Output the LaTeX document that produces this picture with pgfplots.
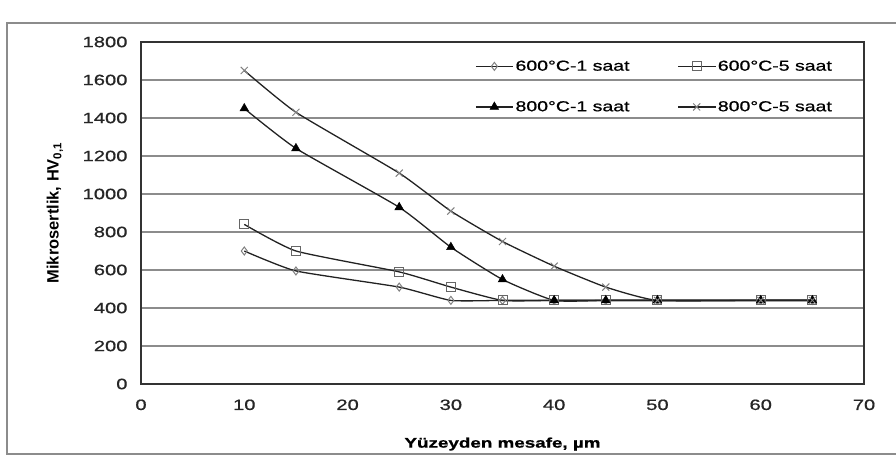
\documentclass[border=0pt]{standalone}
\usepackage{pgfplots}
\pgfplotsset{compat=1.18}
\usepackage{fontspec}
\setmainfont{Liberation Sans}[FakeStretch=1.35, FakeBold=0.8]
\newfontfamily\ylabfont{Liberation Sans}
\definecolor{linec}{HTML}{222222}
\begin{document}
\begin{tikzpicture}[x=1bp,y=1bp]
\useasboundingbox (0,0) rectangle (896,465);
\draw[color=black!45, line width=2bp] (7,11) rectangle (905,442);
\begin{axis}[
  at={(141bp,81bp)}, anchor=south west, scale only axis,
  width=723bp, height=342bp,
  xmin=0, xmax=70, ymin=0, ymax=1800,
  xtick={0,10,...,70}, ytick={0,200,...,1800},
  ymajorgrids, grid style={color=black!45, line width=1.6bp},
  axis line style={color=black!80, line width=1.6bp},
  major tick length=0,
  tick label style={font=\fontsize{15}{18}\selectfont, text=black!85},
  /pgf/number format/assume math mode=true,
  /pgf/number format/1000 sep={},
  xticklabel style={yshift=-12bp},
  yticklabel style={xshift=-10bp},
  xlabel={\bfseries Yüzeyden mesafe, µm},
  xlabel style={at={(axis description cs:0.5,-0.1755)}, anchor=center, font=\fontsize{14}{16}\selectfont},
  ylabel={\ylabfont\bfseries Mikrosertlik, HV\textsubscript{0,1}},
  ylabel style={at={(axis description cs:-0.119,0.5)}, anchor=center, font=\fontsize{16.5}{18}\selectfont},
  legend columns=2,
  legend cell align=left,
  legend style={at={(axis description cs:0.462,0.952)}, anchor=north west, draw=none, fill=none,
    inner sep=0pt, font=\fontsize{14.5}{16}\selectfont, row sep=25bp,
    /tikz/every even column/.append style={column sep=46bp}},
  legend image code/.code={\draw[mark repeat=2,mark phase=2] plot coordinates {(0bp,0bp)(18.5bp,0bp)(37bp,0bp)};},
  every axis plot/.append style={color=linec, line width=1.3bp, smooth, tension=0.3},
]
\addplot[mark=diamond, mark size=4bp, mark options={color=black!50, line width=1bp, fill=white}]
  coordinates {(10,700)(15,595)(25,510)(30,440)(35,440)(40,440)(45,440)(50,440)(60,440)(65,440)};
\addlegendentry{600°C-1 saat}
\addplot[mark=square, mark size=4.5bp, mark options={color=black!60, line width=1bp, fill=white}]
  coordinates {(10,840)(15,700)(25,590)(30,510)(35,440)(40,440)(45,440)(50,440)(60,440)(65,440)};
\addlegendentry{600°C-5 saat}
\addplot[mark=triangle*, mark size=5bp, mark options={color=black, fill=black, line width=0.5bp}]
  coordinates {(10,1450)(15,1240)(25,930)(30,720)(35,550)(40,440)(45,440)(50,440)(60,440)(65,440)};
\addlegendentry{800°C-1 saat}
\addplot[mark=x, mark size=5bp, mark options={color=black!50, line width=1bp}]
  coordinates {(10,1650)(15,1430)(25,1110)(30,910)(35,750)(40,620)(45,510)(50,440)(60,440)(65,440)};
\addlegendentry{800°C-5 saat}
\end{axis}
\end{tikzpicture}
\end{document}
